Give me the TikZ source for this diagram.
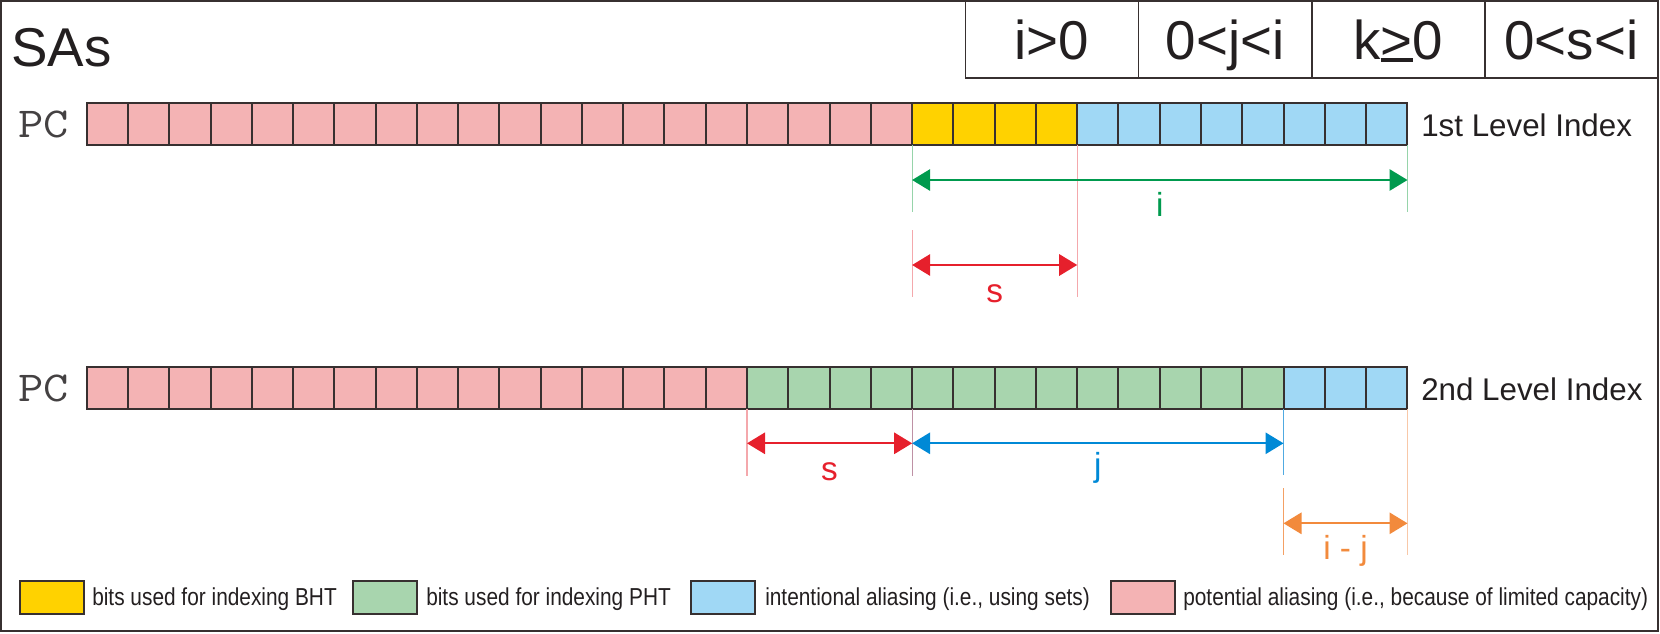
\documentclass[tikz,border=0pt]{standalone}
\usepackage{fontspec}
\usepackage{graphicx}
\setmainfont{Liberation Sans}
\usetikzlibrary{arrows.meta}
\definecolor{cpink}{RGB}{244,179,180}
\definecolor{cyellow}{RGB}{255,210,0}
\definecolor{cblue}{RGB}{160,216,245}
\definecolor{cgreen}{RGB}{168,213,174}
\definecolor{cline}{RGB}{55,48,48}
\definecolor{ctext}{RGB}{35,31,32}
\definecolor{agreen}{RGB}{0,154,78}
\definecolor{ared}{RGB}{230,32,44}
\definecolor{ablue}{RGB}{0,137,214}
\definecolor{aorange}{RGB}{242,138,60}
\definecolor{egreen}{RGB}{150,212,170}
\definecolor{epink}{RGB}{244,168,172}
\definecolor{emauve}{RGB}{190,145,165}
\definecolor{eblue}{RGB}{80,170,225}
\definecolor{eorange}{RGB}{244,160,100}
\definecolor{epeach}{RGB}{248,200,168}
\begin{document}
\begin{tikzpicture}[x=0.75pt,y=-0.75pt,
  cell/.style={draw=cline, line width=1.5pt, minimum width=30.95pt, minimum height=31.7pt, inner sep=0pt},
  hcell/.style={draw=cline, line width=1.3pt, minimum width=129.8pt, minimum height=57.75pt, inner sep=0pt,
    font=\fontsize{41}{41}\selectfont, text height=29.4pt, text depth=0pt, text=ctext},
  legbox/.style={draw=cline, line width=1.5pt, minimum width=48pt, minimum height=25pt, inner sep=0pt},
  legtext/.style={anchor=base west, inner sep=0pt, text=ctext, font=\fontsize{18.4}{18.4}\selectfont},
  lvl/.style={anchor=base west, inner sep=0pt, text=ctext, font=\fontsize{23.5}{23.5}\selectfont},
  pclabel/.style={anchor=base west, inner sep=0pt, text=ctext!85, font=\ttfamily\fontsize{32}{32}\selectfont},
  lab/.style={anchor=base, inner sep=0pt, font=\fontsize{25}{25}\selectfont},
  ext/.style={line width=0.8pt},
  dim/.style={line width=1.5pt, {Triangle[length=13.5pt,width=16pt]}-{Triangle[length=13.5pt,width=16pt]}}
]
\useasboundingbox (0,0) rectangle (1660,633);
\draw[draw=cline, line width=1.5pt] (1,1) rectangle (1658,631);

% title
\node[anchor=base west, inner sep=0pt, text=ctext, font=\fontsize{41}{41}\selectfont] (title) at (11,66) {SAs};

% header table
\node[hcell] (h1) at (1052.05,39.5) {i>0};
\node[hcell] (h2) at (1225.15,39.5) {0<j<i};
\node[hcell] (h3) at (1398.25,39.5) {k\rlap{\rule[-0.05em]{0.584em}{0.07em}}>0};
\node[hcell] (h4) at (1571.35,39.5) {0<s<i};

% row 1
\node[pclabel] (pc1) at (18,137) {\scalebox{1.15}[1]{PC}};
\foreach \k in {0,...,19} \node[cell, fill=cpink] (a\k) at ({86.7+41.27*(\k+0.5)},123.85) {};
\foreach \k in {20,...,23} \node[cell, fill=cyellow] (a\k) at ({86.7+41.27*(\k+0.5)},123.85) {};
\foreach \k in {24,...,31} \node[cell, fill=cblue] (a\k) at ({86.7+41.27*(\k+0.5)},123.85) {};
\node[lvl] (lvl1) at (1421,136.5) {1st Level Index};

% row 2
\node[pclabel] (pc2) at (18,401) {\scalebox{1.15}[1]{PC}};
\foreach \k in {0,...,15} \node[cell, fill=cpink] (b\k) at ({86.7+41.27*(\k+0.5)},387.85) {};
\foreach \k in {16,...,28} \node[cell, fill=cgreen] (b\k) at ({86.7+41.27*(\k+0.5)},387.85) {};
\foreach \k in {29,...,31} \node[cell, fill=cblue] (b\k) at ({86.7+41.27*(\k+0.5)},387.85) {};
\node[lvl] (lvl2) at (1421,400.5) {2nd Level Index};

% row 1 dimension coordinates
\coordinate (g1t) at (912.1,145);
\coordinate (g1b) at (912.1,211.7);
\coordinate (g2t) at (1407.5,145);
\coordinate (g2b) at (1407.5,211.7);
\coordinate (g1) at (912.1,180);
\coordinate (g2) at (1407.5,180);
\coordinate (p1t) at (1077.2,145);
\coordinate (p1b) at (1077.2,296.7);
\coordinate (p0t) at (912.1,230);
\coordinate (p0b) at (912.1,296.7);
\coordinate (r1) at (912.1,265);
\coordinate (r2) at (1077.2,265);

\draw[ext, egreen] (g1t) -- (g1b);
\draw[ext, egreen] (g2t) -- (g2b);
\draw[ext, epink] (p1t) -- (p1b);
\draw[ext, epink] (p0t) -- (p0b);
\draw[dim, agreen] (g1) -- (g2);
\draw[dim, ared] (r1) -- (r2);
\node[lab, text=agreen] (li) at (1159.8,216) {i};
\node[lab, text=ared] (ls1) at (994.7,302.5) {s};

% row 2 dimension coordinates
\coordinate (q0t) at (747,409);
\coordinate (q0b) at (747,476);
\coordinate (q1t) at (912.1,409);
\coordinate (q1b) at (912.1,476);
\coordinate (q2t) at (1283.5,409);
\coordinate (q2b) at (1283.5,475);
\coordinate (o1t) at (1283.5,488.3);
\coordinate (o1b) at (1283.5,555);
\coordinate (o2t) at (1407.5,409);
\coordinate (o2b) at (1407.5,555);
\coordinate (s1) at (747,443.3);
\coordinate (s2) at (912.1,443.3);
\coordinate (j2) at (1283.5,443.3);
\coordinate (o1) at (1283.5,523.3);
\coordinate (o2) at (1407.5,523.3);

\draw[ext, epink] (q0t) -- (q0b);
\draw[ext, emauve] (q1t) -- (q1b);
\draw[ext, eblue] (q2t) -- (q2b);
\draw[ext, eorange] (o1t) -- (o1b);
\draw[ext, epeach] (o2t) -- (o2b);
\draw[dim, ared] (s1) -- (s2);
\draw[dim, ablue] (s2) -- (j2);
\draw[dim, aorange] (o1) -- (o2);
\node[lab, text=ared] (ls2) at (829.5,480.5) {s};
\node[lab, text=ablue] (lj) at (1097.8,476) {j};
\node[lab, text=aorange] (lij) at (1345.5,559) {i - j};

% legend
\node[legbox, fill=cyellow] (k1) at (52,597.4) {};
\node[legtext] (t1) at (92,605) {\scalebox{0.85}[1]{bits used for indexing BHT}};
\node[legbox, fill=cgreen] (k2) at (385,597.4) {};
\node[legtext] (t2) at (426,605) {\scalebox{0.85}[1]{bits used for indexing PHT}};
\node[legbox, fill=cblue] (k3) at (723.3,597.4) {};
\node[legtext] (t3) at (765,605) {\scalebox{0.85}[1]{intentional aliasing (i.e., using sets)}};
\node[legbox, fill=cpink] (k4) at (1142.5,597.4) {};
\node[legtext] (t4) at (1183,605) {\scalebox{0.85}[1]{potential aliasing (i.e., because of limited capacity)}};
\end{tikzpicture}
\end{document}
